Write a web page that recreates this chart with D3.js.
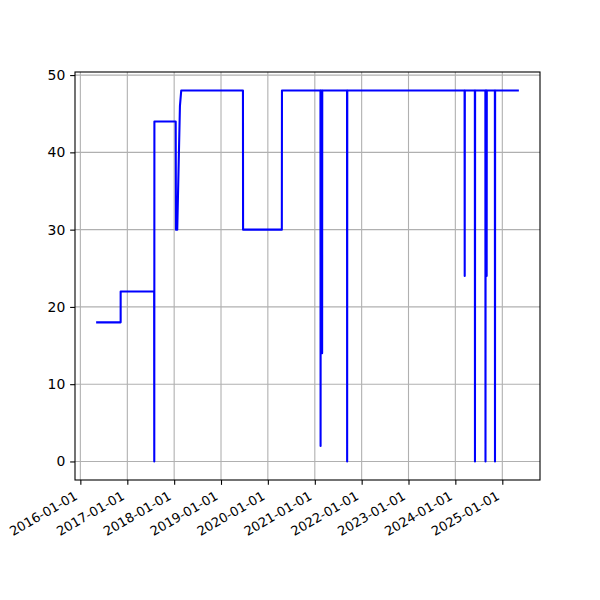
<!DOCTYPE html>
<html>
<head>
<meta charset="utf-8">
<script src="https://cdn.jsdelivr.net/npm/d3@7"></script>
<style>
  html, body { margin: 0; padding: 0; background: #fff; }
  svg { display: block; }
  text { font-family: "DejaVu Sans", sans-serif; }
</style>
</head>
<body>
<svg id="chart" width="600" height="600"></svg>
<script>
// ---- data ----
const dates = [
  "2016-05-03","2016-11-10","2016-11-10","2017-07-29","2017-07-30","2017-07-31",
  "2018-01-13","2018-01-15","2018-01-25","2018-02-15","2018-02-25",
  "2019-06-21","2019-06-22","2020-04-19","2020-04-20",
  "2021-02-14","2021-02-15","2021-02-16","2021-02-26","2021-02-27","2021-02-28",
  "2021-09-09","2021-09-10","2021-09-11",
  "2024-03-13","2024-03-14","2024-03-15",
  "2024-06-01","2024-06-02","2024-06-03",
  "2024-08-22","2024-08-23","2024-08-24",
  "2024-08-31","2024-09-01","2024-09-02",
  "2024-11-04","2024-11-05","2024-11-06",
  "2025-05-10"
];
const values = [
  18, 18, 22, 22, 0, 44,
  44, 30, 30, 46, 48,
  48, 30, 30, 48,
  48, 2, 48, 48, 14, 48,
  48, 0, 48,
  48, 24, 48,
  48, 0, 48,
  48, 0, 48,
  48, 24, 48,
  48, 0, 48,
  48
];
const xTickLabels = ["2016-01-01","2017-01-01","2018-01-01","2019-01-01","2020-01-01",
                     "2021-01-01","2022-01-01","2023-01-01","2024-01-01","2025-01-01"];
const yTicks = [0, 10, 20, 30, 40, 50];

// ---- layout ----
const W = 600, H = 600;
const mLeft = 75, mRight = 540, mTop = 72, mBottom = 480;

const parse = d3.utcParse("%Y-%m-%d");
const fmt = d3.utcFormat("%Y-%m-%d");
const pts = dates.map((d, i) => ({ t: parse(d), v: values[i] }));

const tExt = d3.extent(pts, d => d.t);
const span = tExt[1] - tExt[0];
const x = d3.scaleUtc()
  .domain([new Date(+tExt[0] - 0.05 * span), new Date(+tExt[1] + 0.05 * span)])
  .range([mLeft, mRight]);

const vExt = d3.extent(values);
const vSpan = vExt[1] - vExt[0];
const y = d3.scaleLinear()
  .domain([vExt[0] - 0.05 * vSpan, vExt[1] + 0.05 * vSpan])
  .range([mBottom, mTop]);

const svg = d3.select("#chart");
svg.append("rect").attr("width", W).attr("height", H).attr("fill", "#fff");

const xTickDates = xTickLabels.map(parse);

// grid
const grid = svg.append("g");
grid.selectAll("line.gx").data(xTickDates).enter().append("line")
  .attr("x1", d => x(d)).attr("x2", d => x(d))
  .attr("y1", mTop).attr("y2", mBottom)
  .attr("stroke", "#b0b0b0").attr("stroke-width", 1.1);
grid.selectAll("line.gy").data(yTicks).enter().append("line")
  .attr("x1", mLeft).attr("x2", mRight)
  .attr("y1", d => y(d)).attr("y2", d => y(d))
  .attr("stroke", "#b0b0b0").attr("stroke-width", 1.1);

// line
const line = d3.line().x(d => x(d.t)).y(d => y(d.v));
svg.append("path").datum(pts)
  .attr("d", line)
  .attr("fill", "none")
  .attr("stroke", "#0000ff")
  .attr("stroke-width", 2.08)
  .attr("stroke-linejoin", "round")
  .attr("stroke-linecap", "butt");

// spines
svg.append("rect")
  .attr("x", mLeft).attr("y", mTop)
  .attr("width", mRight - mLeft).attr("height", mBottom - mTop)
  .attr("fill", "none").attr("stroke", "#000").attr("stroke-width", 1.1);

// axes
const xAxis = d3.axisBottom(x).tickValues(xTickDates).tickFormat(fmt)
  .tickSizeInner(4.86).tickSizeOuter(0).tickPadding(4.86);
const gx = svg.append("g").attr("transform", `translate(0,${mBottom})`).call(xAxis);
gx.select(".domain").remove();
gx.selectAll(".tick line").attr("stroke", "#000").attr("stroke-width", 1.1);
gx.selectAll(".tick text")
  .attr("font-family", "DejaVu Sans, sans-serif")
  .attr("font-size", 13.0)
  .attr("fill", "#000")
  .attr("text-anchor", "end")
  .attr("dy", null)
  .attr("y", null)
  .attr("transform", "translate(-2.5,18.5) rotate(-30)");

const yAxis = d3.axisLeft(y).tickValues(yTicks).tickFormat(d3.format("d"))
  .tickSizeInner(4.86).tickSizeOuter(0).tickPadding(4.86);
const gy = svg.append("g").attr("transform", `translate(${mLeft},0)`).call(yAxis);
gy.select(".domain").remove();
gy.selectAll(".tick line").attr("stroke", "#000").attr("stroke-width", 1.1);
gy.selectAll(".tick text")
  .attr("font-family", "DejaVu Sans, sans-serif")
  .attr("font-size", 13.9)
  .attr("fill", "#000");
</script>
</body>
</html>
